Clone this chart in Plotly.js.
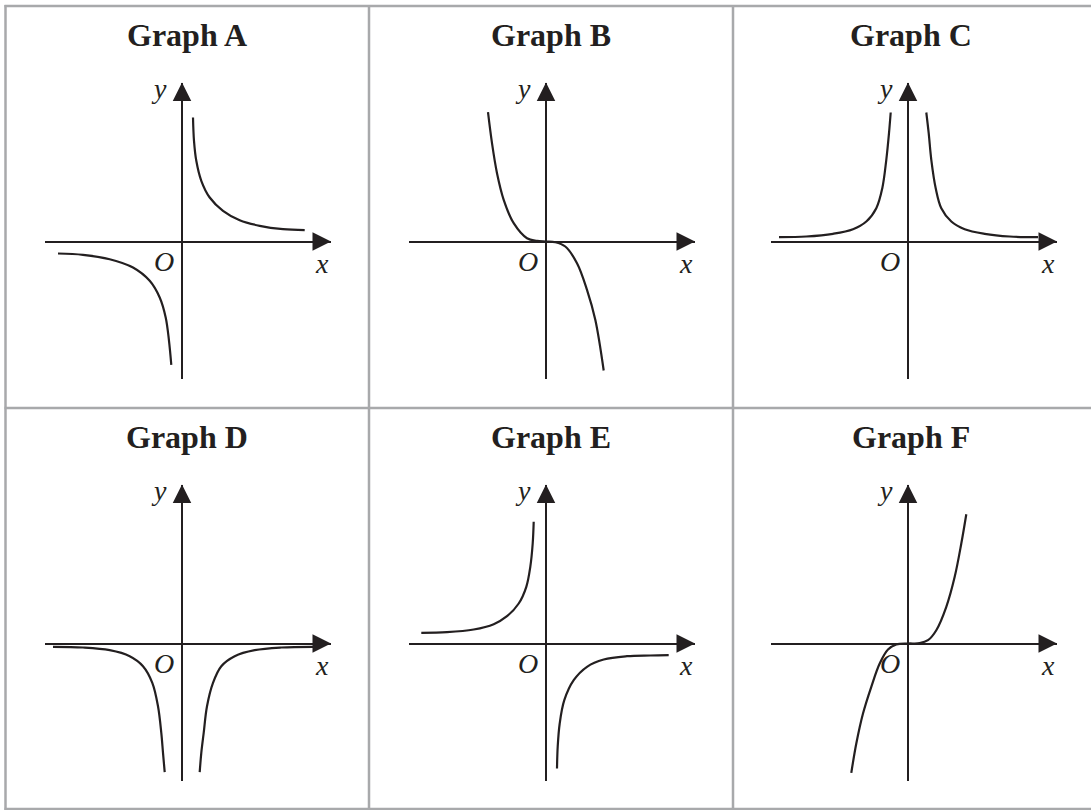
<!DOCTYPE html>
<html>
<head>
<meta charset="utf-8">
<script src="https://cdn.plot.ly/plotly-3.0.1.min.js"></script>
<style>
  html, body { margin: 0; padding: 0; background: #fff; }
  #plot { width: 1091px; height: 810px; }
</style>
</head>
<body>
<div id="plot"></div>
<script>
// curve points, px from the origin (x right, y up)

// Graph A
var aRightX = [11, 12, 14.3, 19.3, 27.7, 41, 57.7, 77.7, 101, 122.7];
var aRightY = [124, 100.7, 80.7, 60.7, 44, 30.7, 21.3, 15.7, 12.3, 11.3];
var aLeftX = [-124, -99, -72.3, -49, -32.3, -22.3, -16.3, -13, -10.7];
var aLeftY = [-12, -13.3, -17.7, -26, -39.3, -56, -76, -99.3, -123.3];

// Graph B
var bX = [-58, -54, -49, -42.3, -32.3, -19, -9, 0, 9.3, 19.3, 31, 41, 49.3, 57.7];
var bY = [129.3, 98.3, 68.3, 41.7, 18.3, 3.3, 0.7, 0, -0.7, -5, -21.7, -48.3, -78.3, -129];

// Graph C
var cLeftX = [-129, -101.7, -75, -55, -41.7, -31.7, -25.7, -21.7, -19, -17.3];
var cLeftY = [4.3, 5, 7.7, 12.3, 20, 33.3, 53.3, 81.7, 108.3, 129];
var cRightX = [18.3, 20.7, 23.3, 27.7, 33.3, 43.3, 56.7, 76.7, 101.7, 130];
var cRightY = [129, 108.3, 81.7, 53.3, 33.3, 20, 12.3, 7.7, 5, 4.3];

// Graph D
var dLeftX = [-129, -99, -72.3, -52.3, -39, -29.7, -24, -20.7, -19, -17.3];
var dLeftY = [-3.3, -4, -6.7, -12.7, -22.7, -39.3, -62.7, -89.3, -109.3, -128.7];
var dRightX = [17.7, 19.3, 21.7, 25, 31, 39.3, 52.7, 72.7, 99.3, 131];
var dRightY = [-128.7, -109.3, -89.3, -62.7, -39.3, -22.7, -12.7, -6.7, -4, -3.3];

// Graph E
var eLeftX = [-124.7, -99, -72.3, -52.3, -39, -27.3, -19.7, -15.7, -13.3, -12.3];
var eLeftY = [10.7, 11.3, 14, 19.3, 27.3, 40, 56.7, 76.7, 100, 121.7];
var eRightX = [11, 11.7, 13.7, 18.3, 27.7, 41, 57.7, 81, 104.3, 122.7];
var eRightY = [-125, -103.3, -80, -56.7, -36.7, -23.3, -16, -12.7, -12, -11.7];

// Graph F
var fX = [-56.7, -51.7, -45, -36.7, -28.3, -20, -11.7, 0, 11.7, 20, 28.3, 38.3, 46.7, 53.3, 58.3];
var fY = [-129.3, -100, -70, -43.3, -20, -6, -1, 0, 0.3, 3.3, 13.3, 36.7, 66.7, 100, 129.3];

var titles = ["Graph A", "Graph B", "Graph C", "Graph D", "Graph E", "Graph F"];
var curves = [
  [[aRightX, aRightY], [aLeftX, aLeftY]],
  [[bX, bY]],
  [[cLeftX, cLeftY], [cRightX, cRightY]],
  [[dLeftX, dLeftY], [dRightX, dRightY]],
  [[eLeftX, eLeftY], [eRightX, eRightY]],
  [[fX, fY]]
];

var W = 1091, H = 810;
var ink = "#231f20";
var grey = "#a8a9ab";
// pixel position of each origin and the centre of each cell
var origins = [[182, 241.5], [546, 241.5], [908, 241.5], [182, 643.5], [546, 643.5], [908, 643.5]];
var cellX = [187, 551, 911];
var titleY = [35, 437];
// axis extents in px from the origin
var xLo = -137, xTip = 149, yLo = -137, yTip = 159;

var data = [];
var layout = {
  width: W, height: H,
  margin: {l: 0, r: 0, t: 0, b: 0},
  paper_bgcolor: "#fff", plot_bgcolor: "rgba(0,0,0,0)",
  showlegend: false, hovermode: false,
  annotations: [], shapes: []
};

var serif = "Liberation Serif, Times New Roman, serif";

origins.forEach(function(o, i) {
  var n = i === 0 ? "" : String(i + 1);
  var xa = "x" + n, ya = "y" + n;
  var ox = o[0], oy = o[1];

  layout["xaxis" + n] = {
    domain: [(ox + xLo) / W, (ox + xTip) / W], range: [xLo, xTip], anchor: ya,
    showgrid: false, showticklabels: false, ticks: "", showline: false,
    zeroline: true, zerolinecolor: ink, zerolinewidth: 2, fixedrange: true
  };
  layout["yaxis" + n] = {
    domain: [(H - (oy - yLo)) / H, (H - (oy - yTip)) / H], range: [yLo, yTip], anchor: xa,
    showgrid: false, showticklabels: false, ticks: "", showline: false,
    zeroline: true, zerolinecolor: ink, zerolinewidth: 2, fixedrange: true
  };

  curves[i].forEach(function(c) {
    data.push({
      x: c[0], y: c[1], xaxis: xa, yaxis: ya,
      mode: "lines", type: "scatter",
      line: {color: ink, width: 2.2, shape: "spline", smoothing: 1}
    });
  });

  // arrow heads on the axes
  data.push({
    x: [xTip, 0], y: [0, yTip], xaxis: xa, yaxis: ya,
    mode: "markers", type: "scatter", cliponaxis: false,
    marker: {symbol: ["arrow-right", "arrow-up"], size: 18.5, color: ink}
  });

  var lab = {size: 28, family: serif, color: ink, style: "italic"};
  layout.annotations.push(
    {xref: xa, yref: ya, x: -23, y: 153, text: "y", showarrow: false, font: lab},
    {xref: xa, yref: ya, x: -18, y: -20, text: "O", showarrow: false, font: lab},
    {xref: xa, yref: ya, x: 140, y: -22, text: "x", showarrow: false, font: lab}
  );

  layout.annotations.push({
    xref: "paper", yref: "paper", xanchor: "center", yanchor: "middle",
    x: cellX[i % 3] / W, y: 1 - titleY[Math.floor(i / 3)] / H,
    text: "<b>" + titles[i] + "</b>", showarrow: false,
    font: {size: 32, family: serif, color: ink}
  });
});

// table grid
var gx = [5.5, 369, 733];
var gy = [6, 408, 809];
gx.forEach(function(x) {
  layout.shapes.push({type: "line", xref: "paper", yref: "paper",
    x0: x / W, x1: x / W, y0: 1 - 5 / H, y1: 0, line: {color: grey, width: 2.5}});
});
gy.forEach(function(y) {
  layout.shapes.push({type: "line", xref: "paper", yref: "paper",
    x0: 4.5 / W, x1: 1, y0: 1 - y / H, y1: 1 - y / H, line: {color: grey, width: 2.5}});
});

Plotly.newPlot("plot", data, layout, {displayModeBar: false, staticPlot: true});
</script>
</body>
</html>
